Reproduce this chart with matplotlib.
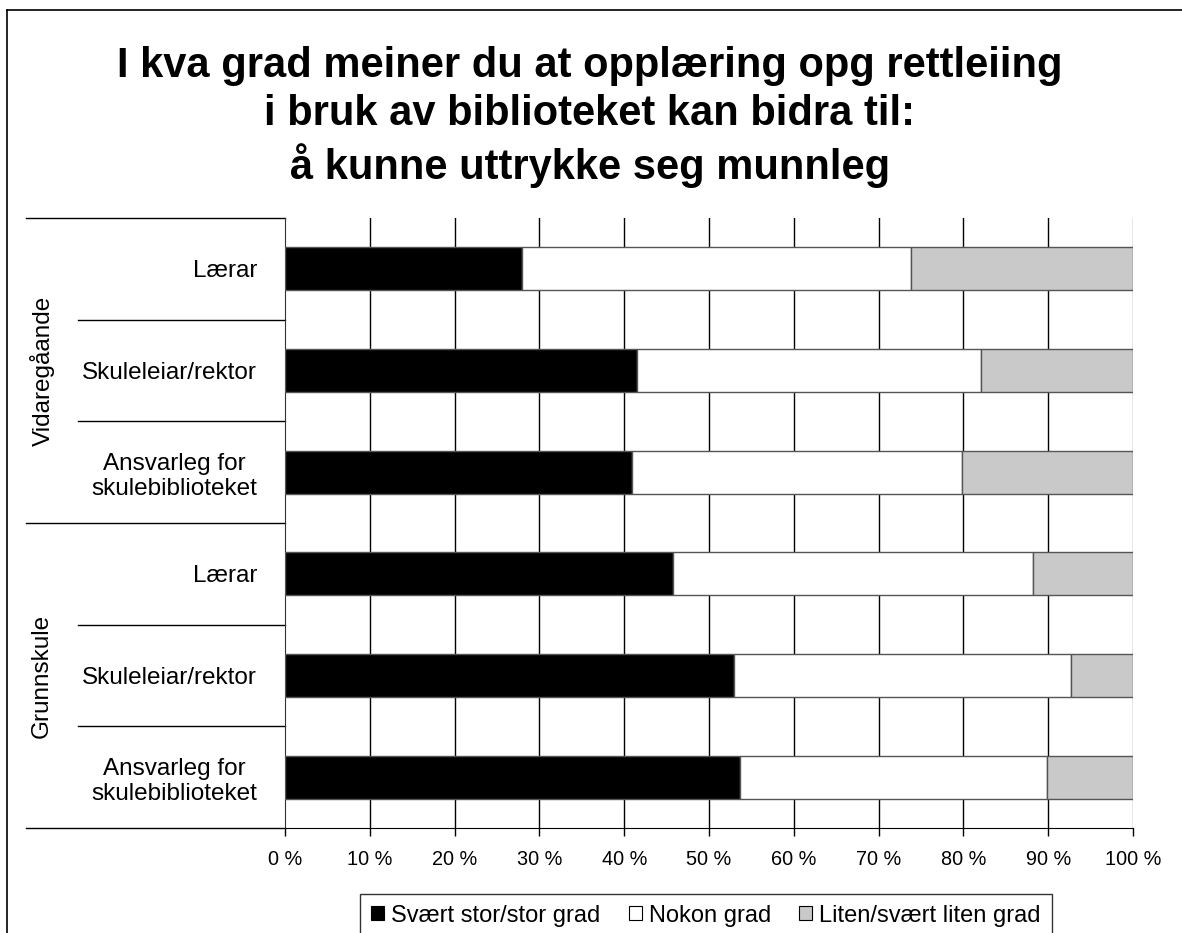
import matplotlib
matplotlib.use('Agg')
from matplotlib import pyplot as plt
from matplotlib.lines import Line2D
from matplotlib.patches import Patch
import matplotlib.transforms as mtransforms
import numpy as np

plt.rcParams['font.family'] = ['Liberation Sans', 'DejaVu Sans']

title = 'I kva grad meiner du at opplæring opg rettleiing\ni bruk av biblioteket kan bidra til:\nå kunne uttrykke seg munnleg'

groups = ['Vidaregåande', 'Grunnskule']
categories = ['Lærar', 'Skuleleiar/rektor', 'Ansvarleg for\nskulebiblioteket',
              'Lærar', 'Skuleleiar/rektor', 'Ansvarleg for\nskulebiblioteket']
series_names = ['Svært stor/stor grad', 'Nokon grad', 'Liten/svært liten grad']
stor_grad = [28.0, 41.5, 40.9, 45.7, 53.0, 53.7]
nokon_grad = [45.8, 40.6, 38.9, 42.5, 39.7, 36.1]
liten_grad = [26.2, 17.9, 20.2, 11.8, 7.3, 10.2]
x_ticks = [0, 10, 20, 30, 40, 50, 60, 70, 80, 90, 100]
x_labels = ['%d %%' % t for t in x_ticks]

colours = ['#000000', '#ffffff', '#c9c9c9']

W, H = 1182, 933
fig = plt.figure(figsize=(W / 100, H / 100), dpi=100)
ax = fig.add_axes([285 / W, 1 - 828 / H, (1133 - 285) / W, (828 - 218) / H])

ypos = np.arange(len(categories))
left = np.zeros(len(categories))
for vals, col, name in zip([stor_grad, nokon_grad, liten_grad], colours, series_names):
    ax.barh(ypos, vals, left=left, height=0.42, color=col, edgecolor='#555555',
            linewidth=1, label=name, zorder=3)
    left = left + np.array(vals)

# vertical grid lines
for t in x_ticks[1:-1]:
    ax.axvline(t, color='black', linewidth=1, zorder=1)
ax.axvline(100, color='#888888', linewidth=1, zorder=1)

ax.set_xlim(0, 100)
ax.set_ylim(len(categories) - 0.5, -0.5)
ax.set_xticks(x_ticks)
ax.set_xticklabels(x_labels, fontsize=14.3)
ax.set_yticks(ypos)
ax.set_yticklabels(categories, fontsize=17.5, multialignment='center')
ax.tick_params(axis='y', length=0, pad=20)
ax.tick_params(axis='x', length=6, width=1, direction='out', pad=10, color='black')
for s in ['top', 'right']:
    ax.spines[s].set_visible(False)
ax.spines['left'].set_color('#333333')
ax.spines['bottom'].set_color('black')

# category separators on the left
trans = mtransforms.blended_transform_factory(ax.transAxes, ax.transData)
x_inner = (78 - 285) / (1133 - 285)
x_outer = (26 - 285) / (1133 - 285)
for b in [0.5, 1.5, 3.5, 4.5]:
    ax.plot([x_inner, 0], [b, b], color='black', linewidth=1, transform=trans, clip_on=False)
for b in [-0.5, 2.5, 5.5]:
    ax.plot([x_outer, 0], [b, b], color='black', linewidth=1, transform=trans, clip_on=False)

# group labels
for i, g in enumerate(groups):
    ax.text((42 - 285) / (1133 - 285), 3 * i + 1, g, transform=trans, rotation=90,
            ha='center', va='center', fontsize=17.5)

fig.text(0.499, 1 - 117 / H, title, ha='center', va='center', fontsize=30,
         fontweight='bold', linespacing=1.26)

# figure frame
fig.add_artist(Line2D([7 / W, 7 / W], [0, 1 - 10 / H], color='black', linewidth=1.2,
                      transform=fig.transFigure))
fig.add_artist(Line2D([7 / W, 1], [1 - 10 / H, 1 - 10 / H], color='black', linewidth=1.2,
                      transform=fig.transFigure))

handles = [Patch(facecolor=c, edgecolor='black', linewidth=0.8) for c in colours]
leg = fig.legend(handles, series_names, loc='upper center', bbox_to_anchor=(706 / W, 1 - 894 / H),
                 ncol=3, fontsize=17, frameon=True, fancybox=False, edgecolor='black',
                 handlelength=0.55, handleheight=0.55, handletextpad=0.3, columnspacing=1.2,
                 borderpad=0.45, borderaxespad=0)
leg.get_frame().set_linewidth(1)

fig.savefig('out.png', dpi=100, facecolor='white')
